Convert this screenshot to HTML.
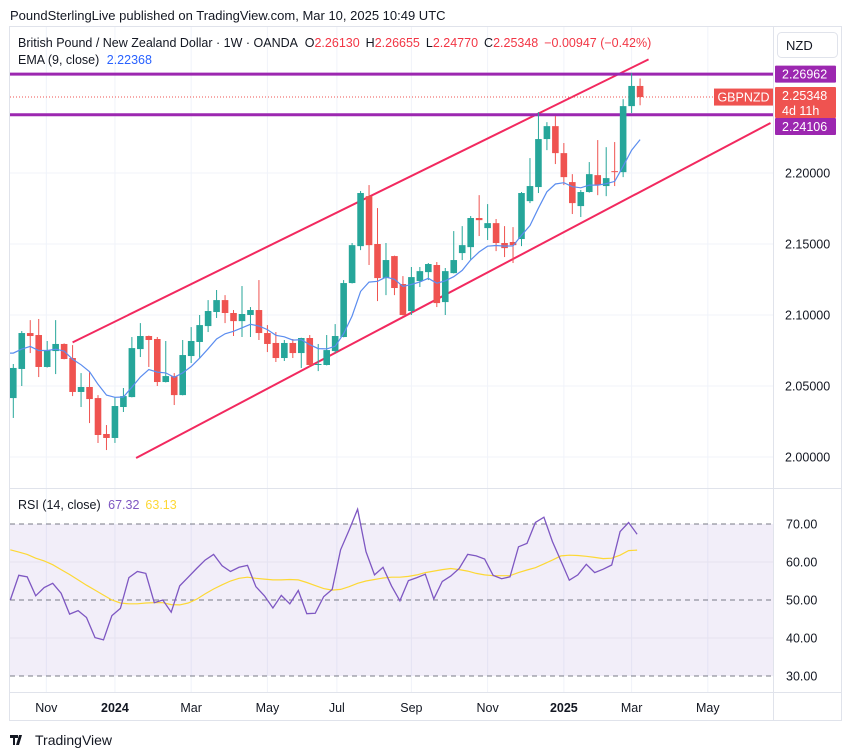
<!DOCTYPE html>
<html><head><meta charset="utf-8"><style>
html,body{margin:0;padding:0;background:#fff;}
svg{display:block;font-family:"Liberation Sans",Arial,sans-serif;}
</style></head><body>
<svg id="chart" width="851" height="756" viewBox="0 0 851 756">
<text x="10" y="20" font-size="13" fill="#131722">PoundSterlingLive published on TradingView.com, Mar 10, 2025 10:49 UTC</text>
<rect x="9.5" y="26.5" width="832" height="694" fill="#fff" stroke="#e0e3eb"/>
<g id="grid"></g>
<rect x="10" y="524" width="763" height="152" fill="#7e57c2" fill-opacity="0.1"/>
<g id="rsiLevels"></g>
<g id="plot"></g>
<line x1="10" y1="488.5" x2="841" y2="488.5" stroke="#e0e3eb"/>
<line x1="773.5" y1="27" x2="773.5" y2="720" stroke="#e0e3eb"/>
<line x1="10" y1="692.5" x2="841" y2="692.5" stroke="#e0e3eb"/>
<g id="axes"></g>
<text x="18" y="47" font-size="12.5" fill="#131722">British Pound / New Zealand Dollar · 1W · OANDA <tspan dx="4">O</tspan><tspan fill="#f23645">2.26130</tspan><tspan dx="6">H</tspan><tspan fill="#f23645">2.26655</tspan><tspan dx="6">L</tspan><tspan fill="#f23645">2.24770</tspan><tspan dx="6">C</tspan><tspan fill="#f23645">2.25348</tspan><tspan dx="6" fill="#f23645">−0.00947 (−0.42%)</tspan></text>
<text x="18" y="64" font-size="12.5" fill="#131722">EMA (9, close) <tspan dx="4" fill="#2962ff">2.22368</tspan></text>
<text x="18" y="509" font-size="12.5" fill="#131722">RSI (14, close) <tspan dx="4" fill="#7e57c2">67.32</tspan><tspan dx="6" fill="#fdd835">63.13</tspan></text>
<rect x="777.5" y="32.5" width="60" height="25" rx="4" fill="#fff" stroke="#e0e3eb"/>
<text x="786" y="50" font-size="13" fill="#131722">NZD</text>
<g transform="translate(10,734)">
<path d="M0 1h8v3H5v7H3V4H0z M9 1h3l-3 10H6z" fill="#131722"/>
<text x="25" y="11" font-size="14" fill="#131722">TradingView</text>
</g>
</svg>
<script>
const opens=[2.0415,2.0620,2.0873,2.0859,2.0634,2.0746,2.0796,2.0697,2.0458,2.0493,2.0415,2.0162,2.0134,2.0352,2.0422,2.0760,2.0852,2.0831,2.0528,2.0570,2.0436,2.0711,2.0810,2.0922,2.1021,2.1105,2.1014,2.0957,2.1000,2.1035,2.0873,2.0803,2.0697,2.0803,2.0732,2.0838,2.0648,2.0648,2.0746,2.0845,2.1225,2.1485,2.1837,2.1500,2.1260,2.1415,2.1218,2.1028,2.1239,2.1302,2.1352,2.1091,2.1295,2.1436,2.1478,2.1683,2.1612,2.1647,2.1507,2.1514,2.1535,2.1802,2.1901,2.2239,2.2330,2.2140,2.1936,2.1767,2.1866,2.1985,2.1908,2.2013,2.2006,2.2471,2.2613];
const highs=[2.0655,2.0887,2.0964,2.0972,2.0817,2.0964,2.0800,2.0788,2.0591,2.0598,2.0436,2.0225,2.0422,2.0486,2.0845,2.0943,2.0855,2.0845,2.0817,2.0591,2.0824,2.0915,2.1000,2.1105,2.1176,2.1140,2.1035,2.1204,2.1056,2.1246,2.0929,2.0880,2.0824,2.0831,2.0840,2.0859,2.0796,2.0859,2.0936,2.1246,2.1507,2.1873,2.1915,2.1753,2.1507,2.1418,2.1274,2.1338,2.1338,2.1366,2.1373,2.1331,2.1591,2.1626,2.1697,2.1844,2.1781,2.1676,2.1626,2.1619,2.1866,2.2105,2.2429,2.2358,2.2401,2.2211,2.1992,2.1880,2.2077,2.2232,2.2182,2.2218,2.2520,2.2703,2.26655];
const lows=[2.0275,2.0500,2.0732,2.0563,2.0630,2.0584,2.0688,2.0429,2.0352,2.0239,2.0099,2.0049,2.0099,2.0317,2.0420,2.0704,2.0634,2.0500,2.0525,2.0366,2.0434,2.0662,2.0697,2.0880,2.0979,2.0943,2.0852,2.0845,2.0845,2.0824,2.0739,2.0669,2.0676,2.0697,2.0627,2.0634,2.0605,2.0645,2.0732,2.0843,2.1222,2.1457,2.1352,2.1098,2.1140,2.1140,2.0997,2.1000,2.1197,2.1246,2.1056,2.1000,2.1293,2.1387,2.1387,2.1556,2.1528,2.1450,2.1408,2.1366,2.1485,2.1788,2.1859,2.2161,2.2063,2.1915,2.1711,2.1690,2.1862,2.1844,2.1837,2.1908,2.1971,2.2422,2.24770];
const closes=[2.0627,2.0873,2.0852,2.0634,2.0753,2.0796,2.0690,2.0458,2.0493,2.0408,2.0155,2.0134,2.0359,2.0429,2.0767,2.0852,2.0824,2.0528,2.0570,2.0436,2.0718,2.0817,2.0929,2.1028,2.1105,2.1014,2.0957,2.1007,2.1035,2.0873,2.0796,2.0697,2.0803,2.0732,2.0838,2.0648,2.0655,2.0753,2.0852,2.1225,2.1492,2.1859,2.1492,2.1260,2.1387,2.1190,2.1000,2.1267,2.1309,2.1359,2.1084,2.1309,2.1387,2.1492,2.1683,2.1668,2.1647,2.1507,2.1471,2.1492,2.1859,2.1908,2.2239,2.2330,2.2140,2.1971,2.1788,2.1866,2.1992,2.1915,2.1964,2.2006,2.2471,2.2613,2.25348];
const rsiValues=[50.0,56.5,56.1,51.1,53.3,54.4,51.8,46.3,47.2,45.4,40.1,39.5,45.9,47.8,55.9,57.5,57.0,49.3,50.0,46.8,53.7,56.0,58.3,60.5,62.0,59.0,57.5,58.6,59.1,53.5,51.1,47.9,51.2,49.0,52.5,46.4,46.5,50.9,52.8,63.2,68.4,73.9,62.7,56.6,58.6,53.7,49.8,55.1,55.9,56.8,50.3,54.9,56.3,58.3,62.0,61.6,60.8,56.5,55.6,56.1,64.0,64.9,70.4,71.8,65.4,60.3,55.2,56.6,59.4,57.2,58.1,59.2,68.0,70.4,67.32];
const rsiMaValues=[63.2,62.6,62.0,61.0,60.3,59.3,58.0,56.7,55.3,53.9,52.6,51.3,50.0,49.2,49.0,49.0,49.2,49.3,49.3,48.8,48.7,49.2,50.2,51.6,52.9,54.0,55.0,55.7,56.0,55.7,55.5,55.3,55.3,55.4,55.3,54.6,53.8,53.0,52.6,52.8,53.5,54.4,55.0,55.4,55.8,56.0,56.0,56.2,56.6,57.2,57.6,58.0,58.3,58.0,57.6,57.0,56.6,56.4,56.4,56.4,57.2,57.9,58.5,59.5,60.5,61.6,61.8,61.7,61.5,61.2,60.9,61.0,61.8,63.0,63.13];
const priceTicks=[2.00,2.05,2.10,2.15,2.20];
const priceTickLabels=["2.00000","2.05000","2.10000","2.15000","2.20000"];
const rsiTicks=[70,60,50,40,30];
const rsiTickLabels=["70.00","60.00","50.00","40.00","30.00"];
const monthLabels=["Nov","2024","Mar","May","Jul","Sep","Nov","2025","Mar","May"];
const monthIndex=[3.9,12.0,21.0,30.0,38.2,47.0,56.0,65.0,73.0,82.0];
const resistanceLevels=[2.26962,2.24106];
const upperChannel=[[7,2.0807],[75,2.2800]];
const lowerChannel=[[14.5,1.9993],[89.4,2.2352]];
const emaSeed=2.0732;

const NS="http://www.w3.org/2000/svg";
const X0=13.3, DX=8.47;
function xOf(i){return X0+i*DX;}
function yP(p){return 457-(p-2.0)*1420;}
function yR(v){return 524+(70-v)*3.8;}
function mk(tag,attrs,parent){const e=document.createElementNS(NS,tag);for(const k in attrs)e.setAttribute(k,attrs[k]);parent.appendChild(e);return e;}
const grid=document.getElementById('grid'),plot=document.getElementById('plot'),axes=document.getElementById('axes'),lv=document.getElementById('rsiLevels');

priceTicks.forEach((p,i)=>{
  const l=mk('line',{x1:10,x2:773,y1:yP(p),y2:yP(p),stroke:'#f0f3fa'},grid);
  
  
  const t=mk('text',{x:785,y:yP(p)+4.5,'font-size':12.5,fill:'#131722'},axes);
  t.textContent=priceTickLabels[i];
  
  
});
monthIndex.forEach((mi,i)=>{
  const x=xOf(mi);
  const l=mk('line',{x1:x,x2:x,y1:27,y2:692,stroke:'#f0f3fa'},grid);
  
  
  const bold=/^\d/.test(monthLabels[i]);
  const t=mk('text',{x:x,y:712,'font-size':12.5,fill:'#131722','text-anchor':'middle','font-weight':bold?'bold':'normal'},axes);
  t.textContent=monthLabels[i];
  
  
});
rsiTicks.forEach((v,i)=>{
  const dashed=(v%20===10);
  const l=mk('line',{x1:10,x2:773,y1:yR(v),y2:yR(v),stroke:dashed?'#787b86':'#e6e3ef','stroke-dasharray':dashed?'5,4':'none'},lv);
  
  
  const t=mk('text',{x:786,y:yR(v)+4.5,'font-size':12.5,fill:'#131722'},axes);
  t.textContent=rsiTickLabels[i];
  
  
});

[upperChannel,lowerChannel].forEach((c,k)=>{
  const l=mk('line',{x1:xOf(c[0][0]),y1:yP(c[0][1]),x2:xOf(c[1][0]),y2:yP(c[1][1]),stroke:'#f2295f','stroke-width':2},plot);
  
  
});
resistanceLevels.forEach((p,k)=>{
  const l=mk('line',{x1:10,x2:773,y1:yP(p),y2:yP(p),stroke:'#9c27b0','stroke-width':3},plot);
  
  
});
const lastC=closes[closes.length-1];
const dl=mk('line',{x1:10,x2:715,y1:yP(lastC),y2:yP(lastC),stroke:'#ef5350','stroke-dasharray':'1,2'},plot);



for(let i=0;i<opens.length;i++){
  const up=closes[i]>=opens[i], col=up?'#26a69a':'#ef5350', x=xOf(i);
  const g=mk('g',{},plot);
  
  
  mk('line',{x1:x,x2:x,y1:yP(highs[i]),y2:yP(lows[i]),stroke:col,'stroke-width':1},g);
  const top=yP(Math.max(opens[i],closes[i])), bot=yP(Math.min(opens[i],closes[i]));
  mk('rect',{x:x-3.3,y:top,width:6.6,height:Math.max(1,bot-top),fill:col},g);
}
let e=emaSeed, pts=[];
for(let i=0;i<closes.length;i++){ if(i>0)e=closes[i]*0.2+e*0.8; pts.push(xOf(i).toFixed(1)+','+yP(e).toFixed(1)); }
pts[0]='10,'+yP(emaSeed).toFixed(1)+' '+pts[0];
const ema=mk('polyline',{points:pts.join(' '),fill:'none',stroke:'#5b8def','stroke-width':1.2},plot);



const rp=rsiValues.map((v,i)=>(xOf(i)-3).toFixed(1)+','+yR(v).toFixed(1)).join(' ');
const mp=rsiMaValues.map((v,i)=>(xOf(i)-3).toFixed(1)+','+yR(v).toFixed(1)).join(' ');
const ma=mk('polyline',{points:mp,fill:'none',stroke:'#fdd835','stroke-width':1.2},plot);


const rl=mk('polyline',{points:rp,fill:'none',stroke:'#7e57c2','stroke-width':1.3},plot);



function badge(y,h,fill,lines,name){
  const g=mk('g',{},axes);
  
  
  mk('rect',{x:775,y:y,width:61,height:h,rx:1,fill:fill},g);
  lines.forEach((s,k)=>{const t=mk('text',{x:782,y:y+13+k*15,'font-size':12.5,fill:'#fff'},g);t.textContent=s;});
}
badge(yP(resistanceLevels[0])-8.5,17,'#9c27b0',['2.26962'],'level-price-label');
badge(yP(lastC)-10,31,'#ef5350',['2.25348','4d 11h'],'last-price-label');
badge(yP(lastC)+21,17,'#9c27b0',['2.24106'],'level-price-label');
const sg=mk('g',{},axes);


mk('rect',{x:714,y:yP(lastC)-8.5,width:59,height:17,fill:'#ef5350'},sg);
const st=mk('text',{x:743.5,y:yP(lastC)+4.5,'font-size':12.5,fill:'#fff','text-anchor':'middle'},sg);
st.textContent='GBPNZD';
</script>
</body></html>
